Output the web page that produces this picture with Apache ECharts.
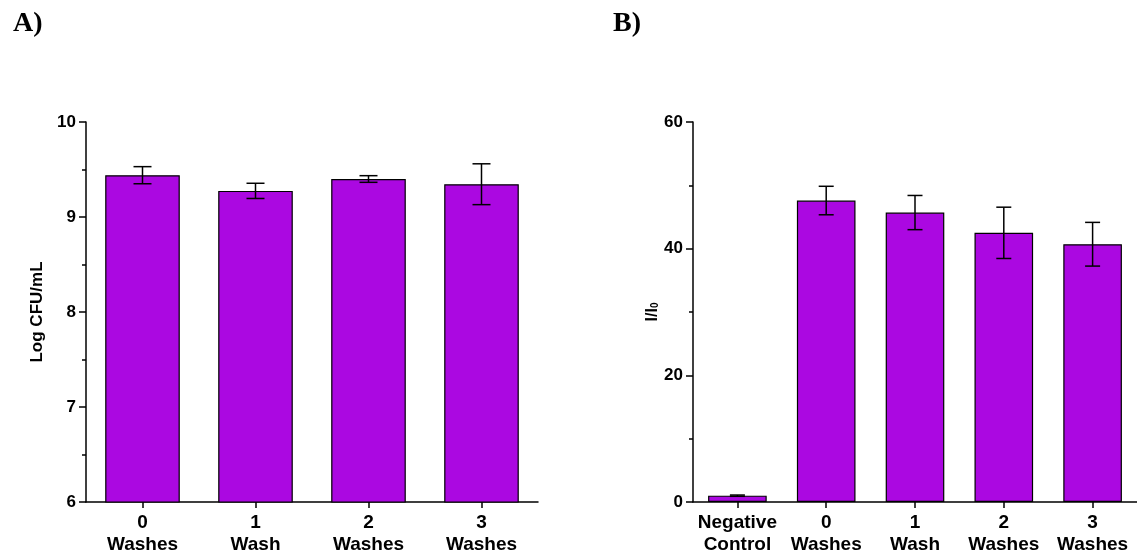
<!DOCTYPE html>
<html>
<head>
<meta charset="utf-8">
<style>
  html, body { margin: 0; padding: 0; background: #ffffff; }
  #chart { width: 1137px; height: 558px; }
</style>
<script src="https://cdn.jsdelivr.net/npm/echarts@6/dist/echarts.min.js"></script>
</head>
<body>
<div id="chart"></div>
<script>
// Panel A: viable counts after washing
const categoriesA = ['0\nWashes', '1\nWash', '2\nWashes', '3\nWashes'];
const meansA = [9.44, 9.275, 9.40, 9.345];
const errorsA = [0.09, 0.08, 0.035, 0.215];

// Panel B: relative signal after washing
const categoriesB = ['Negative\nControl', '0\nWashes', '1\nWash', '2\nWashes', '3\nWashes'];
const meansB = [1.0, 47.6, 45.7, 42.5, 40.7];
const errorsB = [0.1, 2.25, 2.7, 4.05, 3.45];

const BAR_COLOR = '#ab08e1';
const FONT = 'Liberation Sans, Arial, sans-serif';

function errorData(means, errors) {
  return means.map((m, i) => [i, m - errors[i], m + errors[i]]);
}

function errorRenderer(capHalf) {
  return function (params, api) {
    const x = api.value(0);
    const lo = api.coord([x, api.value(1)]);
    const hi = api.coord([x, api.value(2)]);
    const style = { stroke: '#000', lineWidth: 1.5 };
    return {
      type: 'group',
      children: [
        { type: 'line', shape: { x1: hi[0], y1: hi[1], x2: lo[0], y2: lo[1] }, style },
        { type: 'line', shape: { x1: hi[0] - capHalf, y1: hi[1], x2: hi[0] + capHalf, y2: hi[1] }, style },
        { type: 'line', shape: { x1: lo[0] - capHalf, y1: lo[1], x2: lo[0] + capHalf, y2: lo[1] }, style }
      ]
    };
  };
}

const axisLineStyle = { lineStyle: { color: '#000', width: 1.5 } };

function xAxisCfg(cats, gridIndex) {
  return {
    type: 'category',
    gridIndex,
    data: cats,
    axisLine: axisLineStyle,
    axisTick: { show: true, alignWithLabel: true, length: 6, lineStyle: { color: '#000', width: 1.5 } },
    axisLabel: {
      interval: 0, margin: 10, color: '#000', fontFamily: FONT,
      fontWeight: 'bold', fontSize: 19, lineHeight: 22
    }
  };
}

function yAxisCfg(gridIndex, min, max, interval, name, nameGap) {
  return {
    type: 'value',
    gridIndex, min, max, interval,
    name, nameLocation: 'middle', nameGap, nameRotate: 90,
    nameTextStyle: {
      color: '#000', fontFamily: FONT, fontWeight: 'bold', fontSize: 17,
      rich: {
        m: { color: '#000', fontFamily: FONT, fontWeight: 'bold', fontSize: 16 },
        s: { color: '#000', fontFamily: FONT, fontWeight: 'bold', fontSize: 10, verticalAlign: 'bottom', padding: [6, 0, 0, 0] }
      }
    },
    axisLine: { show: true, lineStyle: { color: '#000', width: 1.5 } },
    axisTick: { show: true, length: 7, lineStyle: { color: '#000', width: 1.5 } },
    minorTick: { show: true, splitNumber: 2, length: 4, lineStyle: { color: '#000', width: 1.5 } },
    splitLine: { show: false },
    axisLabel: { margin: 10, color: '#000', fontFamily: FONT, fontWeight: 'bold', fontSize: 17 }
  };
}

const chart = echarts.init(document.getElementById('chart'), null, { renderer: 'canvas' });

chart.setOption({
  backgroundColor: '#ffffff',
  animation: false,
  title: [
    { text: 'A)', left: 8, top: 5, textStyle: { fontFamily: 'Liberation Serif, Times New Roman, serif', fontWeight: 'bold', fontSize: 28, color: '#000' } },
    { text: 'B)', left: 608, top: 5, textStyle: { fontFamily: 'Liberation Serif, Times New Roman, serif', fontWeight: 'bold', fontSize: 28, color: '#000' } }
  ],
  grid: [
    { left: 86, top: 122, width: 452, height: 380 },
    { left: 693, top: 122, width: 447, height: 380 }
  ],
  xAxis: [xAxisCfg(categoriesA, 0), xAxisCfg(categoriesB, 1)],
  yAxis: [
    yAxisCfg(0, 6, 10, 1, 'Log CFU/mL', 40),
    yAxisCfg(1, 0, 60, 20, '{m|I/I}{s|0}', 30)
  ],
  series: [
    {
      type: 'bar', xAxisIndex: 0, yAxisIndex: 0, data: meansA, barWidth: '66%',
      itemStyle: { color: BAR_COLOR, borderColor: '#000', borderWidth: 1.2 }
    },
    {
      type: 'custom', xAxisIndex: 0, yAxisIndex: 0, data: errorData(meansA, errorsA),
      renderItem: errorRenderer(9), z: 5
    },
    {
      type: 'bar', xAxisIndex: 1, yAxisIndex: 1, data: meansB, barWidth: '66%',
      itemStyle: { color: BAR_COLOR, borderColor: '#000', borderWidth: 1.2 }
    },
    {
      type: 'custom', xAxisIndex: 1, yAxisIndex: 1, data: errorData(meansB, errorsB),
      renderItem: errorRenderer(7.5), z: 5
    }
  ]
});
</script>
</body>
</html>
